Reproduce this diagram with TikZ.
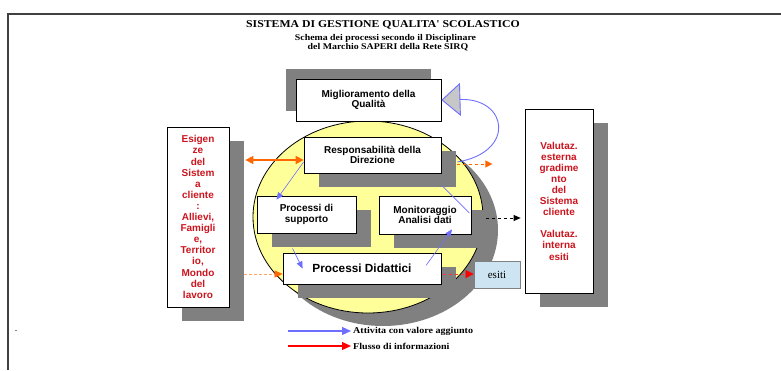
\documentclass[tikz,border=0pt]{standalone}
\usepackage{fontspec}
\setmainfont{Liberation Serif}
\setsansfont{Liberation Sans}
\newfontfamily\widebf{Liberation Serif}[FakeStretch=1.12]
\usetikzlibrary{arrows.meta,shadows}
\definecolor{shad}{RGB}{128,128,128}
\definecolor{elly}{RGB}{255,255,153}
\definecolor{redtxt}{RGB}{204,20,30}
\definecolor{blu}{RGB}{110,110,255}
\definecolor{ora}{RGB}{255,102,0}
\definecolor{esc}{RGB}{205,228,242}

\begin{document}
\begin{tikzpicture}[x=1pt,y=-1pt,>={Triangle[length=7pt,width=6pt]},
 sbox/.style={draw,line width=0.8pt,fill=white,align=center,inner sep=1pt,
   drop shadow={shadow xshift=15pt,shadow yshift=-14pt,fill=shad,opacity=1}},
 topbox/.style={draw,line width=0.8pt,fill=white,align=center,inner sep=1pt,
   font=\sffamily\bfseries\fontsize{10}{10.5}\selectfont,
   drop shadow={shadow xshift=-10pt,shadow yshift=10pt,fill=shad,opacity=1}},
 proc/.style={sbox,font=\sffamily\bfseries\fontsize{10}{10.7}\selectfont},
 side/.style={sbox,text=redtxt,font=\sffamily\bfseries\fontsize{10}{11.1}\selectfont},
 flow/.style={draw=blu,line width=0.6pt},
 leg/.style={font=\widebf\bfseries\fontsize{9}{10}\selectfont,anchor=west,inner sep=0pt}]
\useasboundingbox (0,0) rectangle (781,370);
\draw[line width=1.3pt,black!75] (8,370) -- (8,14) -- (781,14);
% titolo
\node[font=\widebf\bfseries\fontsize{10.5}{12}\selectfont] (title) at (383,25) {SISTEMA DI GESTIONE QUALITA' SCOLASTICO};
\node[font=\widebf\bfseries\fontsize{8.8}{9}\selectfont] (sub1) at (385.5,38) {Schema dei processi secondo il Disciplinare};
\node[font=\widebf\bfseries\fontsize{8.8}{9}\selectfont] (sub2) at (388,47) {del Marchio SAPERI della Rete SIRQ};
% ellisse
\fill[shad] (383,230) ellipse [x radius=115,y radius=96];
\draw[line width=0.8pt,fill=elly] (368,217) ellipse [x radius=115,y radius=96];
% processi
\node[topbox,minimum width=145pt,minimum height=42pt] (mig) at (368.5,100) {Miglioramento della\\Qualità};
\node[proc,minimum width=137pt,minimum height=36pt] (resp) at (372.5,155) {Responsabilità della\\Direzione};
\node[proc,minimum width=99pt,minimum height=37pt] (supp) at (306.5,214.5) {Processi di\\supporto};
\node[proc,minimum width=92pt,minimum height=38pt] (mon) at (425,215) {Monitoraggio\\Analisi dati};
\node[proc,minimum width=158pt,minimum height=31pt,font=\sffamily\bfseries\fontsize{11.8}{13}\selectfont] (did) at (362,268.5) {Processi Didattici};
\node[side,minimum width=62pt,minimum height=180pt] (esig) at (198,217) {Esigen\\ze\\del\\Sistem\\a\\cliente\\:\\Allievi,\\Famigli\\e,\\Territor\\io,\\Mondo\\del\\lavoro};
\node[side,minimum width=68pt,minimum height=184pt] (val) at (559,201) {Valutaz.\\esterna\\gradime\\nto\\del\\Sistema\\cliente\\[11pt]Valutaz.\\interna\\esiti};
\node[draw=gray,fill=esc,line width=0.8pt,minimum width=46pt,minimum height=27pt,font=\fontsize{11}{12}\selectfont] (esiti) at (497,274.5) {esiti};
% flussi
\coordinate (esR) at ([xshift=16pt,yshift=57pt]esig.east);
\coordinate (esD) at ([xshift=15pt,yshift=-57pt]esig.east);
\coordinate (rsR) at ([xshift=16pt,yshift=-9pt]resp.east);
\coordinate (rsE) at ([xshift=51pt,yshift=-9pt]resp.east);
\coordinate (monR) at ([xshift=15pt,yshift=-3pt]mon.east);
\coordinate (didR) at ([xshift=2pt,yshift=-5.5pt]did.east);
\draw[ora,line width=1.6pt,{Triangle[length=8pt,width=8pt]}-{Triangle[length=8pt,width=8pt]}] (esR) -- (esR -| resp.west);
\draw[ora,line width=1pt,dashed,-{Triangle[length=7pt,width=7pt]}] (rsR) -- (rsE);
\draw[blu,line width=0.9pt,-{Triangle[length=19pt,width=33pt,fill=black!22]}] ([xshift=16pt,yshift=-7pt]resp.east) .. controls (516,152) and (508,98) .. (mig.east);
\draw[flow,->] ([yshift=-7pt]resp.west) -- ([xshift=-30pt,yshift=-4pt]supp.north);
\draw[flow] ([xshift=1pt,yshift=-31pt]resp.east) -- ([xshift=-2pt,yshift=2pt]mon.east);
\draw[flow,->] ([xshift=-14pt,yshift=-15pt]supp.south) -- ([xshift=20pt]did.west);
\draw[flow,->] ([xshift=64pt,yshift=3pt]did.center) -- ([xshift=27pt,yshift=5pt]mon.south);
\draw[dashed,line width=0.8pt,->,shorten >=4pt] (monR) -- (monR -| val.west);
\draw[ora!60,densely dashed,line width=0.6pt,-{Triangle[length=8pt,width=7pt,color=ora]}] (esD) -- (esD -| did.west);
\draw[red!80,dashed,line width=0.6pt,-{Triangle[length=8pt,width=8pt,color=red]}] (didR) -- (didR -| esiti.west);
% legenda
\node[leg] (legA) at (353,331) {Attivita con valore aggiunto};
\node[leg] (legF) at (353,346) {Flusso di informazioni};
\coordinate (legAs) at (288,331);
\coordinate (legFs) at (288,346);
\draw[blu,line width=1.2pt,-{Triangle[length=9pt,width=8pt]},shorten >=2pt] (legAs) -- (legA.west);
\draw[red,line width=1.2pt,-{Triangle[length=9pt,width=8pt]},shorten >=2pt] (legFs) -- (legF.west);
\node[font=\fontsize{10}{10}\selectfont,inner sep=0pt] (dot) at (16,331) {.};
\end{tikzpicture}
\end{document}
